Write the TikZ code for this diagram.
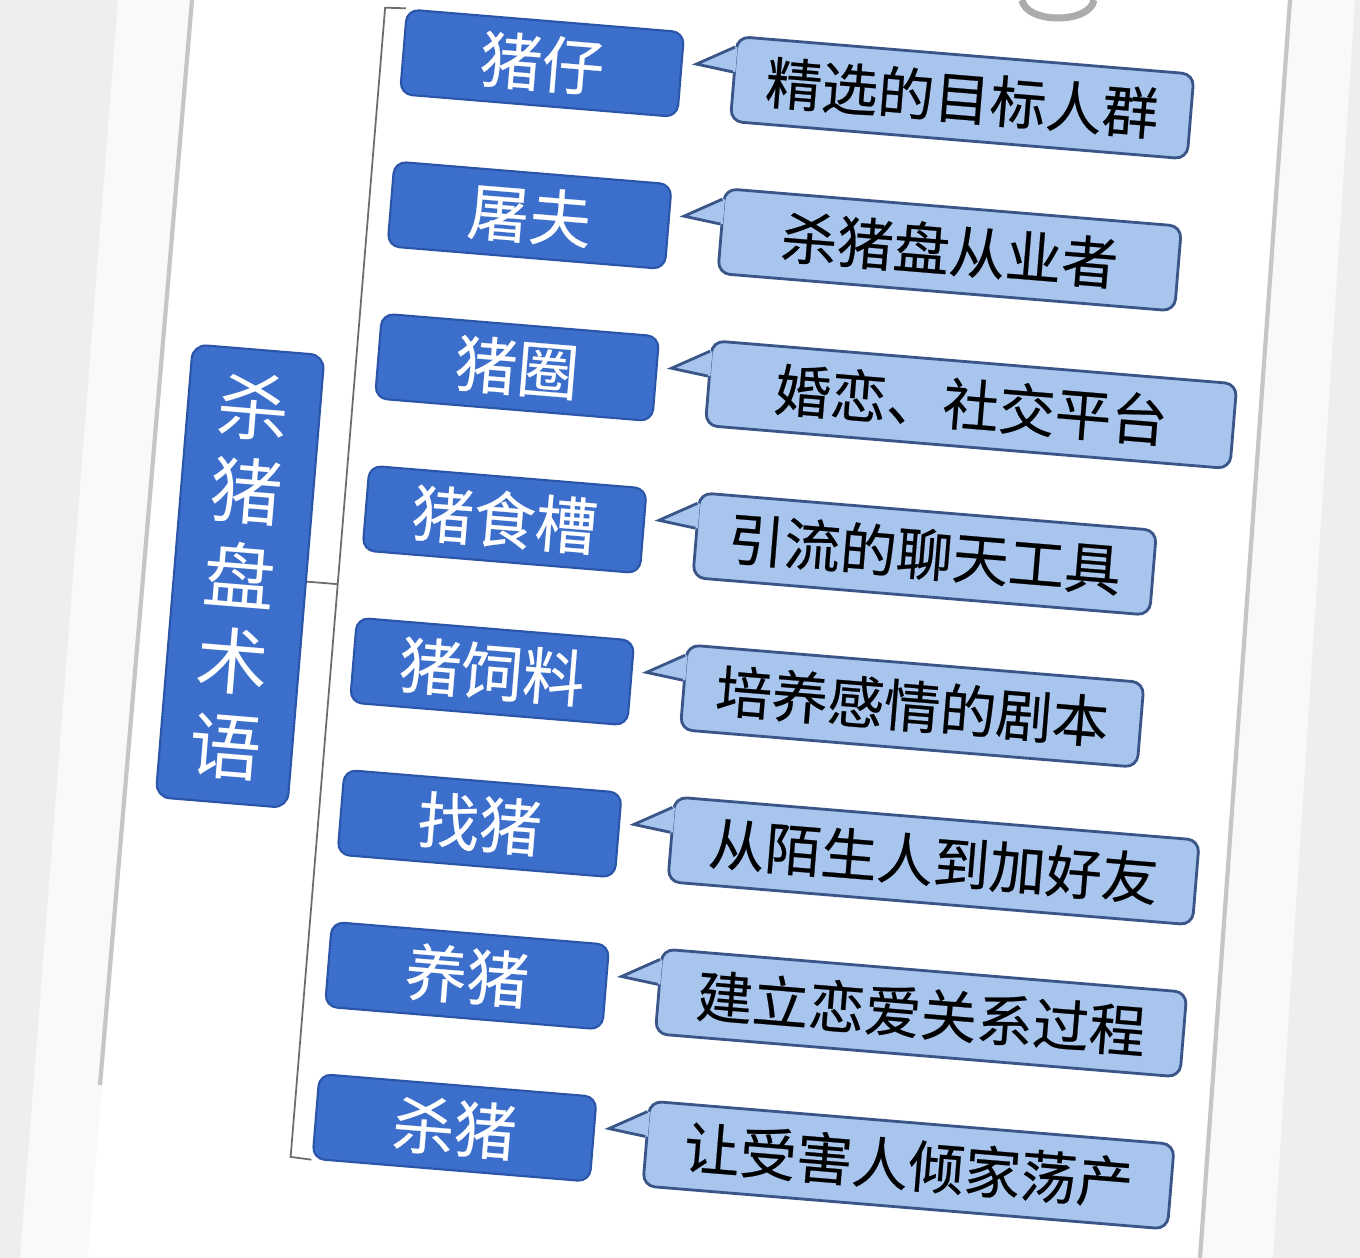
\documentclass[tikz,border=0pt]{standalone}
\usepackage{fontspec}
\setmainfont{Noto Sans CJK SC}
\usetikzlibrary{calc}
\definecolor{termblue}{HTML}{3C6ECB}
\definecolor{termedge}{HTML}{2A55A8}
\definecolor{callfill}{HTML}{A8C5EE}
\definecolor{calledge}{HTML}{3A5689}
\newcommand{\callptr}[1]{%
    \coordinate (#1a) at ($(#1.north west)!0.12cm!(#1.south west)$);
    \coordinate (#1b) at ($(#1.north west)!0.37cm!(#1.south west)$);
    \coordinate (#1t) at ($(#1.north west)!0.49cm!-49:(#1.south west)$);
    \fill[callfill] (#1a) -- (#1t) -- (#1b) -- cycle;
    \draw[callfill, line width=1.4pt] (#1a) -- (#1b);
    \draw[calledge, line width=0.8pt, line join=miter] (#1a) -- (#1t) -- (#1b);
}
\begin{document}
\begin{tikzpicture}[x=0.01cm, y=-0.01cm]
                        \tikzstyle{term}=[rectangle, rounded corners=0.12cm, fill=termblue, draw=termedge, line width=0.6pt, minimum width=2.78cm, minimum height=0.85cm, text=white, font=\fontsize{17.6}{20}\selectfont\addfontfeature{FakeBold=0.4}]
                        \tikzstyle{meaning}=[rectangle, rounded corners=0.12cm, fill=callfill, draw=calledge, line width=0.8pt, minimum width=4.58cm, minimum height=0.85cm, anchor=west, font=\fontsize{16}{19}\selectfont\addfontfeature{FakeBold=0.4}]
                        \tikzstyle{title}=[rectangle, rounded corners=0.14cm, fill=termblue, draw=termedge, line width=0.6pt, minimum width=1.32cm, minimum height=4.54cm, text=white, align=center, font=\fontsize{20.5}{24.2}\selectfont]
                        \tikzstyle{brace}=[draw=gray!85!black, line width=0.5pt]
                        \useasboundingbox (0,0) rectangle (1360,1258);
                        \fill[gray!13] (0,0) rectangle (1360,1258);
                        \fill[white!95!gray] (118,0) -- (1355,0) -- (1273,1258) -- (20,1258) -- cycle;
                        \fill[white] (192,0) -- (1290,0) -- (1200,1258) -- (88,1258) -- cycle;
                        \draw[gray!45, line width=1.2pt] (192,0) -- (100,1085);
                        \draw[gray!45, line width=1.2pt] (1290,0) -- (1200,1258);
                        \draw[gray!65, line width=2pt] (1022,0) .. controls (1026,24) and (1090,24) .. (1094,0);
                        \begin{scope}[rotate around={-4.7:(700,620)}, transform shape]
                            \node[title] (title) at (238,614) {杀\\猪\\盘\\术\\语};
                            \node[term] (term1) at (497,78) {猪仔};
                            \node[term] (term2) at (497,230.6) {屠夫};
                            \node[term] (term3) at (497,383.2) {猪圈};
                            \node[term] (term4) at (497,535.8) {猪食槽};
                            \node[term] (term5) at (497,688.4) {猪饲料};
                            \node[term] (term6) at (497,841) {找猪};
                            \node[term] (term7) at (497,993.6) {养猪};
                            \node[term] (term8) at (497,1146.2) {杀猪};
                            \node[meaning] (mean1) at (688,78) {精选的目标人群};
                            \node[meaning] (mean2) at (688,230.6) {杀猪盘从业者};
                            \node[meaning, minimum width=5.26cm] (mean3) at (688,383.2) {婚恋、社交平台};
                            \node[meaning] (mean4) at (688,535.8) {引流的聊天工具};
                            \node[meaning] (mean5) at (688,688.4) {培养感情的剧本};
                            \node[meaning, minimum width=5.26cm] (mean6) at (688,841) {从陌生人到加好友};
                            \node[meaning, minimum width=5.26cm] (mean7) at (688,993.6) {建立恋爱关系过程};
                            \node[meaning, minimum width=5.26cm] (mean8) at (688,1146.2) {让受害人倾家荡产};
                            \coordinate (btop) at (336,35.5);
                            \coordinate (bmid) at (336,614);
                            \coordinate (bbot) at (336,1188.7);
                            \draw[brace] (term1.north west) -- (btop) -- (bbot) -- (term8.south west);
                            \draw[brace] (title.east) -- (bmid);
                            \callptr{mean1}
                            \callptr{mean2}
                            \callptr{mean3}
                            \callptr{mean4}
                            \callptr{mean5}
                            \callptr{mean6}
                            \callptr{mean7}
                            \callptr{mean8}
                        \end{scope}
                    \end{tikzpicture}
\end{document}
